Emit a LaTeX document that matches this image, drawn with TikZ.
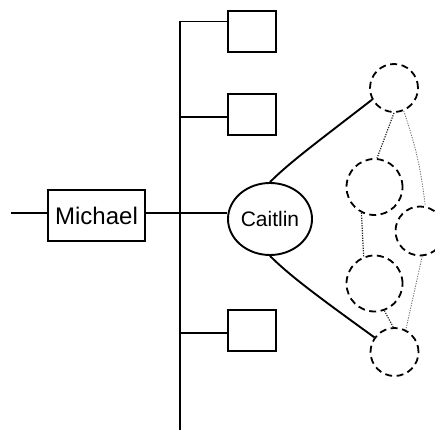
\documentclass[tikz,border=0pt]{standalone}
\usepackage{fontspec}
\setmainfont{Liberation Sans}
\usetikzlibrary{shapes.geometric}
\begin{document}
\begin{tikzpicture}[x=1pt,y=1pt,
  wire/.style={line width=1.9pt},
  leaf/.style={draw,line width=1.9pt,minimum width=48pt,minimum height=41pt,inner sep=0pt},
  ring/.style={draw,circle,line width=1.8pt,dash pattern=on 7pt off 4.5pt,inner sep=0pt},
  link/.style={line width=1.2pt,dash pattern=on 1.2pt off 1.3pt,black!85},
  faint/.style={line width=0.9pt,dash pattern=on 1.2pt off 1.3pt,black!55}]
\useasboundingbox (0,0) rectangle (435,430);

% trunk and its branch points
\coordinate (top) at (180,409);
\coordinate (bot) at (180,0);
\coordinate (j1) at (180,408.5);
\coordinate (j2) at (180,313);
\coordinate (j3) at (180,97);
\coordinate (jm) at (180,217);
\coordinate (lead) at (11,217);

% nodes
\node[leaf] (b1) at (252,398.5) {};
\node[leaf] (b2) at (252,315.5) {};
\node[leaf] (b3) at (252,99.5) {};
\node[draw,line width=1.9pt,minimum width=97pt,minimum height=51pt,inner sep=0pt,
      font=\fontsize{24}{28}\selectfont] (m) at (96.5,214.5) {Michael};
\node[draw,ellipse,line width=1.9pt,minimum width=84pt,minimum height=72pt,inner sep=0pt,
      font=\fontsize{21}{25}\selectfont] (c) at (270,211) {Caitlin};

\node[ring,minimum size=48pt] (r1) at (394,342) {};
\node[ring,minimum size=56pt] (r2) at (374.5,243) {};
\node[ring,minimum size=49pt] (r3) at (420,199) {};
\node[ring,minimum size=56pt] (r4) at (374.5,146.5) {};
\node[ring,minimum size=48pt] (r5) at (394.5,78) {};

% connectors
\draw[wire] (top) -- (bot);
\draw[wire] (j1) -- (b1.west |- j1);
\draw[wire] (j2) -- (b2.west |- j2);
\draw[wire] (j3) -- (b3.west |- j3);
\draw[wire] (lead) -- (m.west |- lead);
\draw[wire] (m.east |- jm) -- (jm);
\draw[wire] (jm) -- (c.west |- jm);
\draw[wire] (c.north) .. controls (290,268) and (320,290) .. (r1.208);
\draw[wire] (c.south) .. controls (290,154) and (320,132) .. (r5.144);

\draw[link] (r1.-90) -- (r2.85);
\draw[link] (r2.-117) -- (r4.112);
\draw[link] (r4.-70) -- (r5.93);
\draw[faint] (r1.-67) to[bend left=6] (r3.78);
\draw[faint] (r3.-85) -- (r5.63);
\end{tikzpicture}
\end{document}
